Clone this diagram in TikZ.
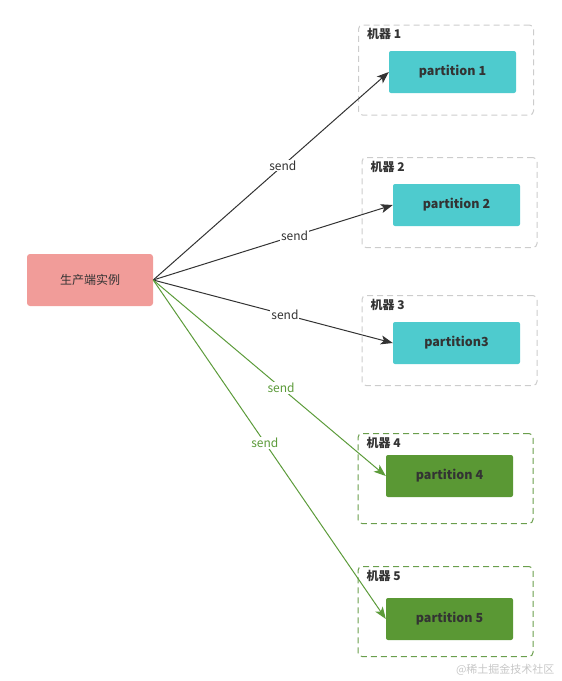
\documentclass[tikz,border=0pt]{standalone}
\usepackage{fontspec}
\setmainfont{Noto Sans CJK SC}
\usetikzlibrary{arrows,arrows.meta,shapes,positioning}

\definecolor{pinkfill}{HTML}{F19C99}
\definecolor{tealfill}{HTML}{4ECBCE}
\definecolor{greenfill}{HTML}{5A9834}
\definecolor{greenline}{HTML}{5C9B3A}
\definecolor{greendash}{HTML}{6A9E4C}
\definecolor{graydash}{HTML}{CCCCCC}
\definecolor{txt}{HTML}{333333}

\begin{document}
\begin{tikzpicture}[x=1pt,y=-1pt]
\tikzstyle{every node}+=[font=\fontsize{12}{14}\selectfont, text=txt]
\tikzstyle{machine}=[draw=graydash, dash pattern=on 6pt off 4pt, rounded corners=4pt, line width=1pt, minimum width=175pt, minimum height=90pt, inner sep=0pt]
\tikzstyle{gmachine}=[machine, draw=greendash]
\tikzstyle{part}=[fill=tealfill, rounded corners=2pt, minimum width=127pt, minimum height=42pt, inner sep=0pt, font=\fontsize{12.5}{14}\selectfont\bfseries]
\tikzstyle{gpart}=[part, fill=greenfill]
\tikzstyle{mlabel}=[inner sep=0pt, font=\fontsize{12}{14}\selectfont\bfseries]
\tikzstyle{sendlabel}=[fill=white, inner sep=1pt]
\tikzstyle{sendarrow}=[-{Stealth[length=12pt,width=9pt,inset=3pt]}, line width=1pt, draw=txt]
\tikzstyle{gsendarrow}=[sendarrow, draw=greenline]

\useasboundingbox (0,0) rectangle (562,681);

\node (producer) [fill=pinkfill, rounded corners=3pt, minimum width=126pt, minimum height=52pt] at (90,280) {生产端实例};

% machines
\node (m1) [machine] at (446,70) {};
\node (m2) [machine] at (449.5,202.5) {};
\node (m3) [machine] at (449.5,340.5) {};
\node (m4) [gmachine] at (445.5,478.5) {};
\node (m5) [gmachine] at (445.5,611.5) {};

\node (m1_label) [mlabel, below right=4pt and 9pt of m1.north west] {机器 1};
\node (m2_label) [mlabel, below right=4pt and 9pt of m2.north west] {机器 2};
\node (m3_label) [mlabel, below right=4pt and 9pt of m3.north west] {机器 3};
\node (m4_label) [mlabel, below right=4pt and 9pt of m4.north west] {机器 4};
\node (m5_label) [mlabel, below right=4pt and 9pt of m5.north west] {机器 5};

% partitions
\node (p1) [part] at (452.5,72) {partition 1};
\node (p2) [part] at (456.5,205) {partition 2};
\node (p3) [part] at (456.5,343) {partition3};
\node (p4) [gpart] at (449.5,476) {partition 4};
\node (p5) [gpart] at (449.5,619) {partition 5};

\path
  (producer.east) edge [sendarrow] node[sendlabel, pos=0.55] {send} (p1.west)
  (producer.east) edge [sendarrow] node[sendlabel, pos=0.59] {send} (p2.west)
  (producer.east) edge [sendarrow] node[sendlabel, pos=0.55] {send} (p3.west)
  (producer.east) edge [gsendarrow] node[sendlabel, text=greenline, pos=0.55] {send} (p4.west)
  (producer.east) edge [gsendarrow] node[sendlabel, text=greenline, pos=0.48] {send} (p5.west)
;

\node (watermark) [text=black!22, font=\fontsize{11}{13}\selectfont, anchor=east] at (558,670) {@稀土掘金技术社区};
\end{tikzpicture}
\end{document}
